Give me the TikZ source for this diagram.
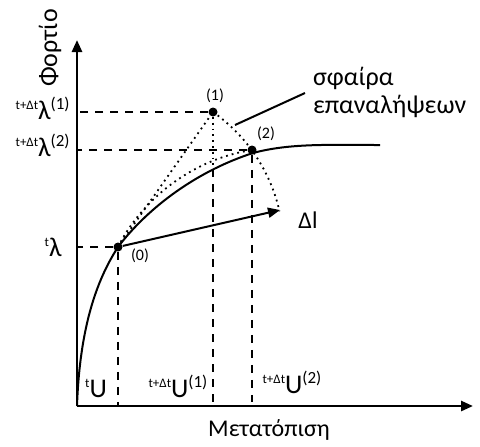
\documentclass[tikz,border=0pt]{standalone}
\usepackage{fontspec}
\setmainfont{Carlito}
\usetikzlibrary{arrows.meta}

% label with small prefix and superscript, e.g. t+Δt λ (1)
\newcommand{\stlabel}[3]{\raisebox{0.5em}{\fontsize{6.5}{7}\selectfont #1}{\fontsize{13.5}{15}\selectfont #2}\raisebox{0.5em}{\fontsize{8.5}{9}\selectfont #3}}

\begin{document}
\begin{tikzpicture}[x=0.5pt, y=-0.5pt,
    axis/.style={line width=1.3pt, -{Triangle[length=6pt, width=5pt]}},
    guide/.style={line width=0.8pt, dash pattern=on 4pt off 3.5pt},
    dots/.style={line width=0.9pt, dotted},
    pt/.style={circle, fill=black, inner sep=0pt, minimum size=4.5pt},
    small/.style={font=\fontsize{8}{9}\selectfont}]
        \useasboundingbox (0,0) rectangle (480,446);
        % Axes
        \coordinate (o) at (77,406);
        \coordinate (ytop) at (77,40);
        \coordinate (xend) at (473,406);
        \draw[axis] (o) -- (ytop);
        \draw[axis] (o) -- (xend);
        \node[rotate=90, font=\fontsize{13}{14}\selectfont] (ylab) at (50,48) {Φορτίο};
        \node[font=\fontsize{12}{13}\selectfont] (xlab) at (269,430) {Μετατόπιση};
        % Points
        \node[pt] (p0) at (118,247) {};
        \node[pt] (p1) at (213,112) {};
        \node[pt] (p2) at (252,150) {};
        \coordinate (dl) at (280,210);
        \coordinate (c1) at (213,169);
        % Load-displacement curve
        \draw[line width=1pt] (o) .. controls (80,320) and (100,275) .. (p0.center)
            .. controls (150,205) and (200,170) .. (253,153)
            .. controls (290,143) and (330,145) .. (380,145);
        % Dashed projections
        \draw[guide] (p1) -- (p1 -| o);
        \draw[guide] (p2) -- (p2 -| o);
        \draw[guide] (p0) -- (p0 -| o);
        \draw[guide] (p0) -- (p0 |- o);
        \draw[guide] (c1) -- (c1 |- o);
        \draw[guide] (p2) -- (252,402);
        % Dotted iterations and sphere
        \draw[dots] (p0) -- (p1);
        \draw[dots] (p1) -- (c1);
        \draw[dots] (p0.center) .. controls (140,203) and (188,160) .. (p2.center);
        \draw[dots] (p1.center) arc (-54.9:-12.7:166);
        % Increment
        \draw[line width=1pt, -{Triangle[length=6pt, width=5pt]}] (p0) -- (dl);
        \node[font=\fontsize{12}{13}\selectfont] (dlab) at (308,220) {Δl};
        % Sphere label
        \node[anchor=west, align=left, font=\fontsize{13}{14}\selectfont] (sph) at (306,92) {σφαίρα\\[0pt]επαναλήψεων};
        \coordinate (lead) at (305,93);
        \draw[line width=1pt] (235,125) -- (lead);
        % Point labels
        \node[small] (l0) at (140,256) {(0)};
        \node[small] (l1) at (215,96) {(1)};
        \node[small] (l2) at (266,134) {(2)};
        % Axis labels
        \node[anchor=east, inner sep=0pt] (lam1) at (70,108) {\stlabel{t+Δt}{λ}{(1)}};
        \node[anchor=east, inner sep=0pt] (lam2) at (70,145) {\stlabel{t+Δt}{λ}{(2)}};
        \node[anchor=east, inner sep=0pt] (lam0) at (62,247) {\stlabel{t}{λ}{}};
        \node[inner sep=0pt] (u0) at (96,388) {\stlabel{t}{U}{}};
        \node[inner sep=0pt] (u1) at (178,386) {\stlabel{t+Δt}{U}{(1)}};
        \node[inner sep=0pt] (u2) at (292,382) {\stlabel{t+Δt}{U}{(2)}};
    \end{tikzpicture}
\end{document}
